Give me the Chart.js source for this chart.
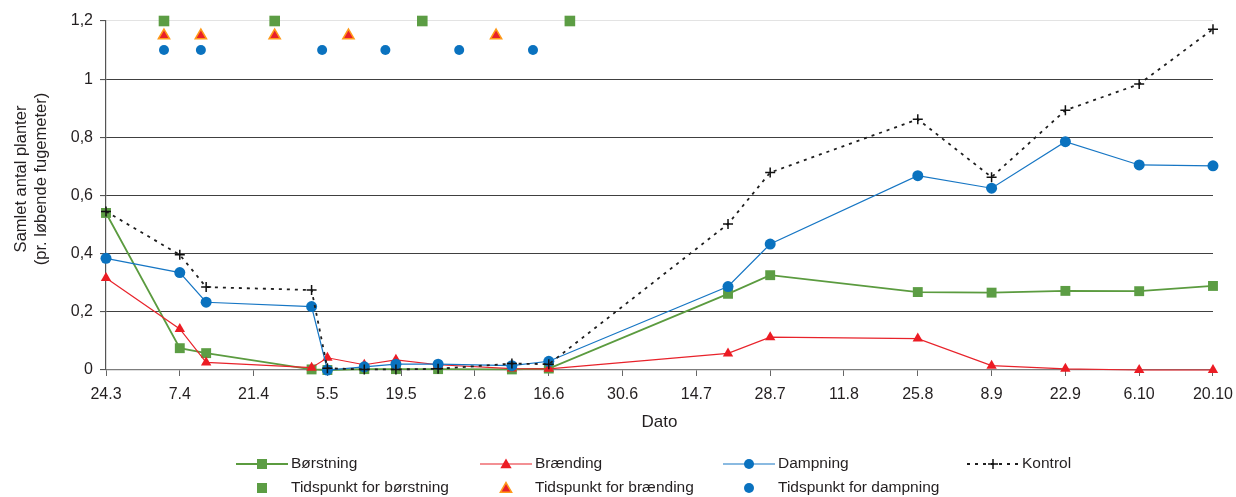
<!DOCTYPE html>
<html><head><meta charset="utf-8">
<script src="https://cdn.jsdelivr.net/npm/chart.js@4.4.1/dist/chart.umd.min.js"></script>
<style>html,body{margin:0;padding:0;background:#fff;} canvas{display:block;}</style>
</head><body>
<canvas id="c" width="1236" height="497"></canvas>
<script>
// ---- data ----
const xTickLabels = ['24.3','7.4','21.4','5.5','19.5','2.6','16.6','30.6','14.7','28.7','11.8','25.8','8.9','22.9','6.10','20.10'];
const xTickDays = [0,14,28,42,56,70,84,98,112,126,140,154,168,182,196,210];
const yTickValues = [0,0.2,0.4,0.6,0.8,1,1.2];
const yTickLabels = ['0','0,2','0,4','0,6','0,8','1','1,2'];
const measureDays = [0,14,19,39,42,49,55,63,77,84,118,126,154,168,182,196,210];
const borstning = [0.54,0.075,0.058,0.002,0,0.003,0.003,0.003,0.002,0.005,0.262,0.326,0.268,0.266,0.272,0.271,0.289];
const braending = [0.316,0.141,0.026,0.008,0.042,0.018,0.035,0.018,0.005,0.004,0.057,0.113,0.108,0.015,0.004,0,0];
const dampning  = [0.384,0.335,0.233,0.218,0,0.011,0.02,0.02,0.015,0.03,0.287,0.433,0.668,0.625,0.785,0.705,0.702];
const kontrol   = [0.545,0.396,0.285,0.275,0.006,0.002,0.002,0.004,0.022,0.02,0.502,0.679,0.862,0.663,0.893,0.983,1.172];
const timeBorstningDays = [11,32,60,88];
const timeBraendingDays = [11,18,32,46,74];
const timeDampningDays  = [11,18,41,53,67,81];
const timeBorstningLevel = 1.2;
const timeBraendingLevel = 1.15;
const timeDampningLevel  = 1.1;
const seriesLabels = ['Børstning','Brænding','Dampning','Kontrol','Tidspunkt for børstning','Tidspunkt for brænding','Tidspunkt for dampning'];
const yTitleLines = ['Samlet antal planter','(pr. løbende fugemeter)'];
const xTitle = 'Dato';

// ---- styles ----
const GREEN = '#5b9b3f', GREEN_M = '#5c9d44';
const RED = '#e8232b', RED_M = '#ec1c24';
const BLUE = '#1676c4', BLUE_M = '#0a72bf';
const BLACK = '#1e1e1e';
const ORANGE = '#ff9a1a';
const FONT = "'Liberation Sans', Arial, Helvetica, sans-serif";
const TEXT = '#231f20';

const pts = (xs, ys) => xs.map((x, i) => ({x: x, y: ys[i]}));
const flat = (xs, v) => xs.map(x => ({x: x, y: v}));

Chart.defaults.font.family = FONT;
Chart.defaults.color = TEXT;

function drawMarker(ctx, style, x, y, r, fill, stroke, bw) {
  ctx.save();
  ctx.setLineDash([]);
  ctx.beginPath();
  if (style === 'rect') {
    const s = r;
    ctx.rect(x - s, y - s, 2 * s, 2 * s);
    ctx.fillStyle = fill; ctx.fill();
  } else if (style === 'circle') {
    ctx.arc(x, y, r, 0, Math.PI * 2);
    ctx.fillStyle = fill; ctx.fill();
  } else if (style === 'triangle') {
    ctx.moveTo(x, y - r);
    ctx.lineTo(x + r * 0.866, y + r * 0.5);
    ctx.lineTo(x - r * 0.866, y + r * 0.5);
    ctx.closePath();
    ctx.fillStyle = fill; ctx.fill();
    if (stroke) { ctx.strokeStyle = stroke; ctx.lineWidth = bw; ctx.stroke(); }
  } else if (style === 'cross') {
    ctx.moveTo(x, y - r); ctx.lineTo(x, y + r);
    ctx.moveTo(x - r, y); ctx.lineTo(x + r, y);
    ctx.strokeStyle = stroke; ctx.lineWidth = bw; ctx.stroke();
  }
  ctx.restore();
}

const decorPlugin = {
  id: 'decor',
  afterDraw(chart) {
    const ctx = chart.ctx;
    // y axis title (two lines, rotated)
    ctx.save();
    ctx.fillStyle = TEXT;
    ctx.font = '16.5px ' + FONT;
    ctx.textAlign = 'center';
    ctx.textBaseline = 'middle';
    const xs = [21, 41.5];
    yTitleLines.forEach((t, i) => {
      ctx.save();
      ctx.translate(xs[i], 179);
      ctx.rotate(-Math.PI / 2);
      ctx.fillText(t, 0, 0);
      ctx.restore();
    });
    ctx.restore();

    // legend grid
    const cols = [236, 480, 723, 967];
    const rows = [464, 488];
    const ds = chart.data.datasets;
    ctx.save();
    ctx.font = '15.5px ' + FONT;
    ctx.textBaseline = 'middle';
    ctx.textAlign = 'left';
    for (let i = 0; i < 4; i++) {
      const d = ds[i];
      const x0 = cols[i], y = rows[0];
      ctx.save();
      ctx.beginPath();
      ctx.strokeStyle = d.borderColor;
      ctx.lineWidth = d.borderWidth;
      ctx.setLineDash(d.borderDash || []);
      ctx.moveTo(x0, y); ctx.lineTo(x0 + 52, y);
      ctx.stroke();
      ctx.restore();
      const mx = x0 + 26;
      if (d.pointStyle === 'rect') drawMarker(ctx, 'rect', mx, y, 5, d.backgroundColor);
      else if (d.pointStyle === 'triangle') drawMarker(ctx, 'triangle', mx, y + 1, 6.5, d.backgroundColor);
      else if (d.pointStyle === 'circle') drawMarker(ctx, 'circle', mx, y, 5, d.backgroundColor);
      else if (d.pointStyle === 'cross') drawMarker(ctx, 'cross', mx, y, 5, null, d.pointBorderColor, 1.5);
      ctx.fillStyle = TEXT;
      ctx.fillText(d.label, x0 + 55, y);
    }
    for (let i = 4; i < 7; i++) {
      const d = ds[i];
      const x0 = cols[i - 4], y = rows[1];
      const mx = x0 + 26;
      if (d.pointStyle === 'rect') drawMarker(ctx, 'rect', mx, y, 5, d.backgroundColor);
      else if (d.pointStyle === 'triangle') drawMarker(ctx, 'triangle', mx, y + 1, 6.5, d.backgroundColor, d.borderColor, 1.5);
      else if (d.pointStyle === 'circle') drawMarker(ctx, 'circle', mx, y, 5, d.backgroundColor);
      ctx.fillStyle = TEXT;
      ctx.fillText(d.label, x0 + 55, y);
    }
    ctx.restore();
  }
};

new Chart(document.getElementById('c'), {
  type: 'line',
  data: {
    datasets: [
      { label: seriesLabels[0], data: pts(measureDays, borstning), borderColor: GREEN, backgroundColor: GREEN_M,
        borderWidth: 1.8, pointStyle: 'rect', pointRadius: 7, pointBorderWidth: 0, order: 4, clip: false },
      { label: seriesLabels[1], data: pts(measureDays, braending), borderColor: RED, backgroundColor: RED_M,
        borderWidth: 1.2, pointStyle: 'triangle', pointRadius: 6, pointBorderWidth: 0, order: 3, clip: false },
      { label: seriesLabels[2], data: pts(measureDays, dampning), borderColor: BLUE, backgroundColor: BLUE_M,
        borderWidth: 1.2, pointStyle: 'circle', pointRadius: 5.5, pointBorderWidth: 0, order: 2, clip: false },
      { label: seriesLabels[3], data: pts(measureDays, kontrol), borderColor: BLACK, backgroundColor: BLACK,
        borderWidth: 1.8, borderDash: [3, 5], pointStyle: 'cross', pointRadius: 5, pointBorderColor: '#111',
        pointBorderWidth: 1.5, order: 1, clip: false },
      { label: seriesLabels[4], data: flat(timeBorstningDays, timeBorstningLevel), showLine: false,
        backgroundColor: GREEN_M, borderColor: GREEN_M, pointStyle: 'rect', pointRadius: 7.5, pointBorderWidth: 0, order: 0, clip: false },
      { label: seriesLabels[5], data: flat(timeBraendingDays, timeBraendingLevel), showLine: false,
        backgroundColor: '#e8202a', borderColor: ORANGE, pointStyle: 'triangle', pointRadius: 6.5, pointBorderWidth: 1.5, order: 0, clip: false },
      { label: seriesLabels[6], data: flat(timeDampningDays, timeDampningLevel), showLine: false,
        backgroundColor: BLUE_M, borderColor: BLUE_M, pointStyle: 'circle', pointRadius: 5, pointBorderWidth: 0, order: 0, clip: false }
    ]
  },
  options: {
    responsive: false,
    animation: false,
    events: [],
    elements: { line: { tension: 0 } },
    layout: { padding: { left: 0, right: 23, top: 21, bottom: 60 } },
    plugins: { legend: { display: false }, tooltip: { enabled: false } },
    scales: {
      x: {
        type: 'linear', min: 0, max: 210,
        afterBuildTicks: s => { s.ticks = xTickDays.map(v => ({ value: v })); },
        afterFit: s => { s.height = 67; },
        ticks: { autoSkip: false, maxRotation: 0, padding: 3, font: { size: 16, lineHeight: 1.95 }, color: TEXT,
          callback: v => xTickLabels[xTickDays.indexOf(v)] },
        grid: { drawOnChartArea: false, drawTicks: true, tickLength: 6, tickColor: '#666', lineWidth: 1 },
        border: { color: '#7d7d7d', width: 1.3 },
        title: { display: true, text: xTitle, font: { size: 17 }, color: TEXT, padding: { top: 0, bottom: 4 } }
      },
      y: {
        min: 0, max: 1.2,
        afterBuildTicks: s => { s.ticks = yTickValues.map(v => ({ value: v })); },
        afterFit: s => { s.width = 106; },
        ticks: { padding: 7, font: { size: 16 }, color: TEXT,
          callback: v => yTickLabels[yTickValues.findIndex(t => Math.abs(t - v) < 1e-9)] },
        grid: {
          color: c => (c.tick && c.tick.value > 1.1) ? '#e3e3e3' : (c.tick && c.tick.value === 0 ? '#7d7d7d' : '#404040'),
          lineWidth: 1.1, tickColor: '#555', tickLength: 6, drawTicks: true
        },
        border: { color: '#555', width: 1.2 }
      }
    }
  },
  plugins: [decorPlugin]
});
</script>
</body></html>
